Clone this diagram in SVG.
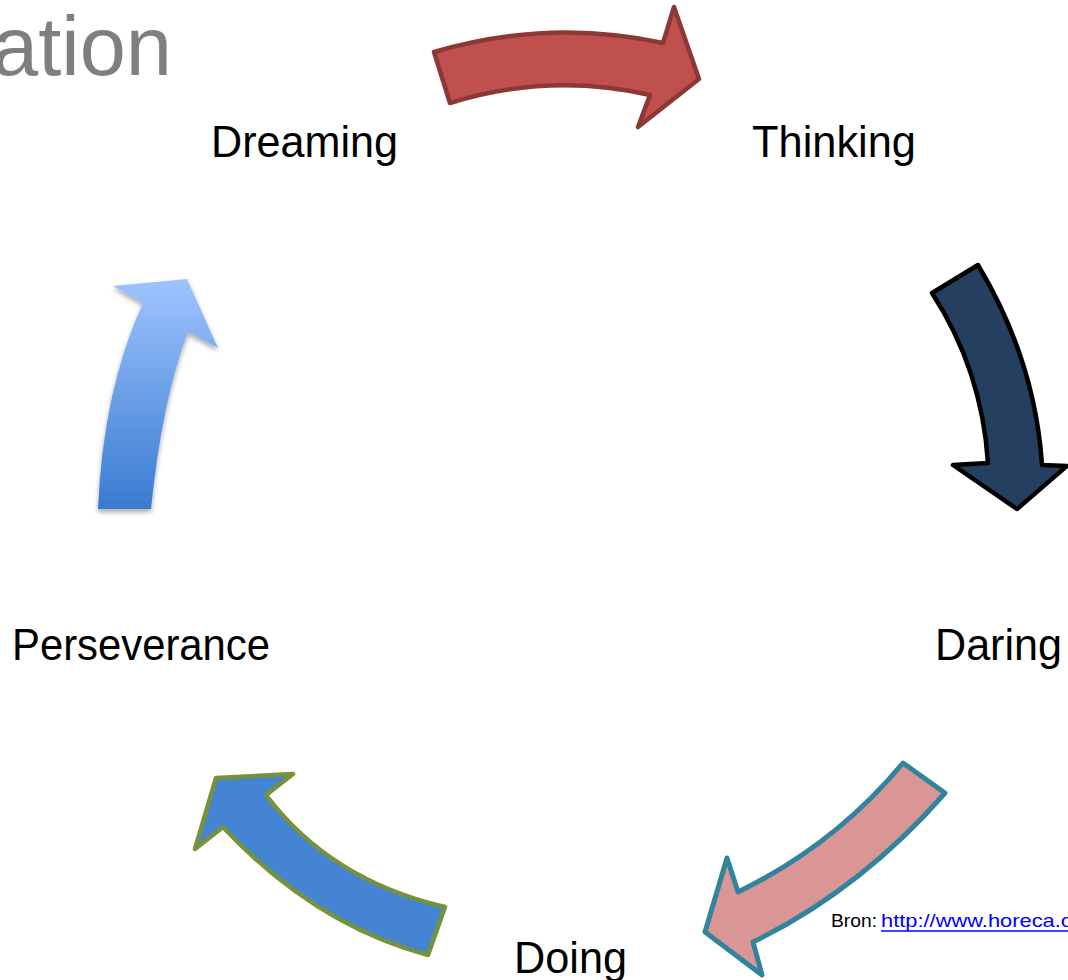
<svg xmlns="http://www.w3.org/2000/svg" width="1068" height="980" viewBox="0 0 1068 980">
  <style>
    .lbl { font-family: "Liberation Sans", Arial, sans-serif; font-size: 45px; fill: #000000; }
    .title { font-family: "Liberation Sans", Arial, sans-serif; font-size: 83px; fill: #7F7F7F; }
    .src { font-family: "Liberation Sans", Arial, sans-serif; font-size: 19px; }
    .arrow { stroke-linejoin: round; }
  </style>
  <defs>
    <linearGradient id="gradLight" x1="0" y1="279" x2="0" y2="509" gradientUnits="userSpaceOnUse">
      <stop offset="0" stop-color="#9EC4FF"/>
      <stop offset="1" stop-color="#3A7BD0"/>
    </linearGradient>
    <filter id="shadow" x="-20%" y="-20%" width="140%" height="140%">
      <feGaussianBlur in="SourceAlpha" stdDeviation="2.5"/>
      <feOffset dx="0" dy="3" result="b"/>
      <feComponentTransfer><feFuncA type="linear" slope="0.35"/></feComponentTransfer>
      <feMerge><feMergeNode/><feMergeNode in="SourceGraphic"/></feMerge>
    </filter>
  </defs>
  <rect width="1068" height="980" fill="#FFFFFF"/>

  <text class="title" x="-8" y="75">ation</text>

  <g id="connectors">
    <path class="arrow" d="M 434,52 Q 550,18 663,43 L 674,7 L 699,79 L 638,127 L 650,95 Q 550,72 450,103 Z" fill="#C0504D" stroke="#8C3836" stroke-width="4.5"/>
    <path class="arrow" d="M 932,293 L 978,265 Q 1035,360 1042,465 L 1067,466 L 1017,509 L 953,465 L 988,463 Q 982,370 932,293 Z" fill="#243F60" stroke="#000000" stroke-width="4.5"/>
    <path class="arrow" d="M 903,763 L 945,793 Q 860,890 753,942 L 762,975 L 705,932 L 727,858 L 738,892 Q 835,845 903,763 Z" fill="#D99694" stroke="#31849B" stroke-width="5"/>
    <path class="arrow" d="M 428,955 L 445,907 Q 330,880 266,795 L 293,774 L 216,778 L 195,849 L 223,827 Q 315,925 428,955 Z" fill="#4584D3" stroke="#76923C" stroke-width="4.5"/>
    <path d="M 98,509 Q 103,390 143,303 L 113,286 L 187,279 L 218,348 L 188,332 Q 162,400 151,509 Z" fill="url(#gradLight)" filter="url(#shadow)"/>
  </g>

  <g id="node-dreaming"><text class="lbl" x="211" y="157" textLength="187" lengthAdjust="spacingAndGlyphs">Dreaming</text></g>
  <g id="node-thinking"><text class="lbl" x="752" y="157" textLength="164" lengthAdjust="spacingAndGlyphs">Thinking</text></g>
  <g id="node-daring"><text class="lbl" x="935" y="660" textLength="127" lengthAdjust="spacingAndGlyphs">Daring</text></g>
  <g id="node-doing"><text class="lbl" x="514" y="973" textLength="113" lengthAdjust="spacingAndGlyphs">Doing</text></g>
  <g id="node-perseverance"><text class="lbl" x="12" y="660" textLength="258" lengthAdjust="spacingAndGlyphs">Perseverance</text></g>

  <g id="source">
    <text class="src" x="831" y="927" fill="#000000" textLength="46" lengthAdjust="spacingAndGlyphs">Bron:</text>
    <text class="src" x="881" y="927" fill="#0000FF" textLength="192" lengthAdjust="spacingAndGlyphs">http://www.horeca.o</text>
    <line x1="881" y1="931" x2="1068" y2="931" stroke="#0000FF" stroke-width="1.5"/>
  </g>
</svg>
